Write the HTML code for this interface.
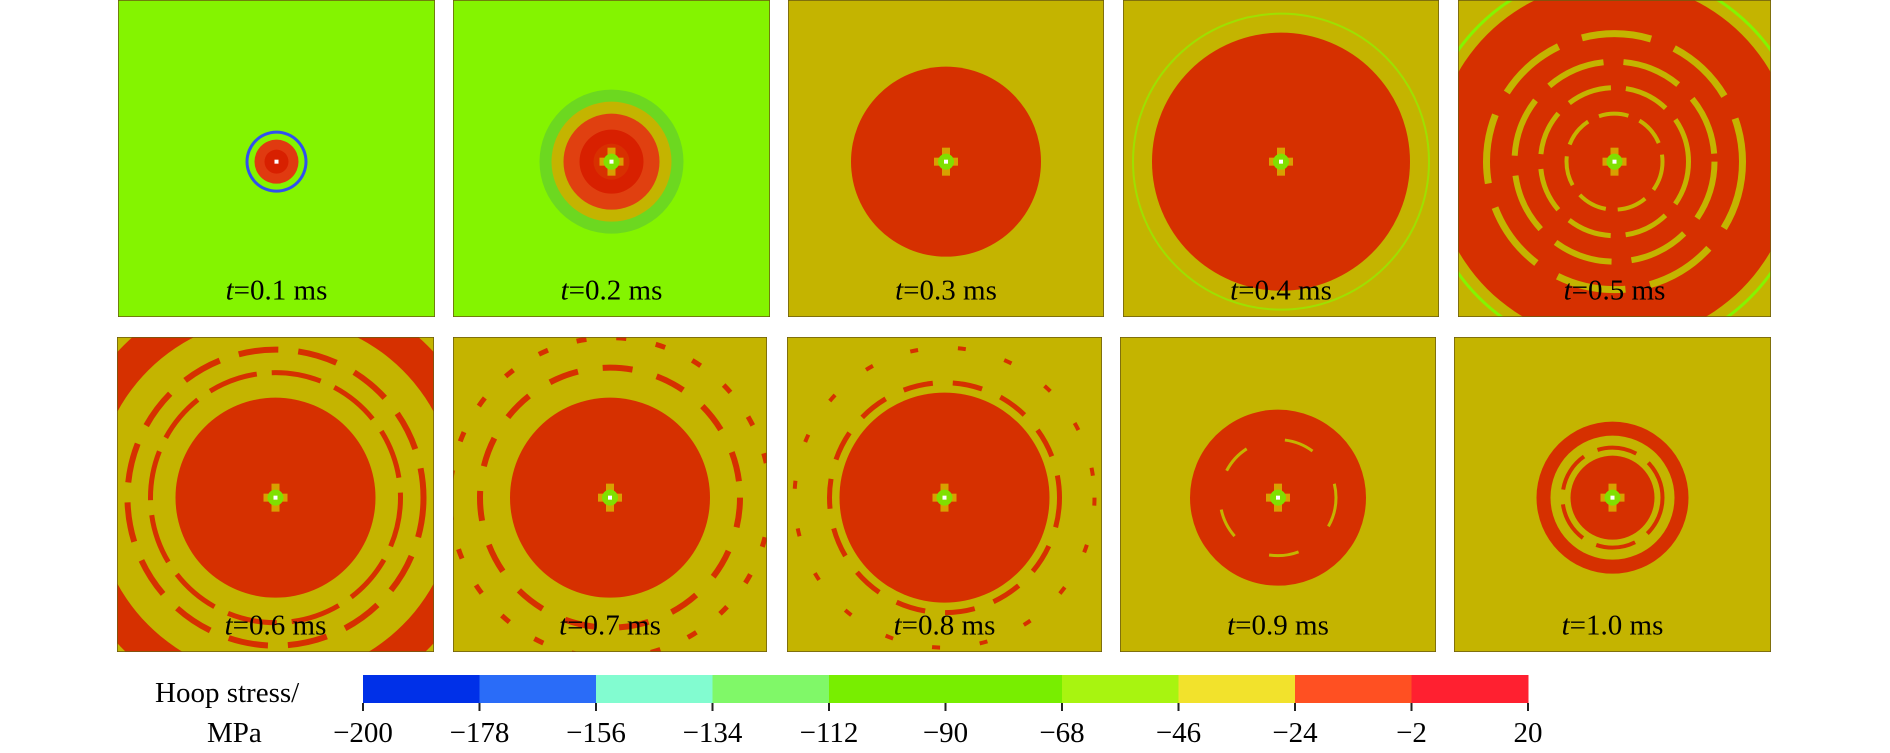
<!DOCTYPE html>
<html><head><meta charset="utf-8">
<style>
body{margin:0;background:#fff;}
svg{display:block;font-family:"Liberation Serif",serif;}
</style></head>
<body>
<svg id="fig" width="1890" height="753" viewBox="0 0 1890 753" xmlns="http://www.w3.org/2000/svg">
<defs id="defs"></defs>
<g id="panels"></g>
<g id="cbar"></g>
</svg>
<script>
const NS="http://www.w3.org/2000/svg";
// colorbar data
const cbTicks=[-200,-178,-156,-134,-112,-90,-68,-46,-24,-2,20];
const cbColors=["#0030e8","#2a6cf8","#82fcd0","#80f868","#78ee00","#78ee00","#a8f410","#f2e22c","#ff5022","#ff2030"];
// panel data
const times=["0.1","0.2","0.3","0.4","0.5","0.6","0.7","0.8","0.9","1.0"];
const bgColors=["#84f400","#84f400","#c4b400","#c4b400","#c4b400","#c4b400","#c4b400","#c4b400","#c4b400","#c4b400"];
// rings: [radius, color, strokeWidth(0=fill), dash]
const rings=[
 [[31,"#3050f0",0],[28,"#84f400",0],[22,"#e03a10",0],[12,"#d82000",0]],
 [[72,"#6cd820",0],[60,"#c4b400",0],[48,"#e04010",0],[32,"#d82000",0],[18,"#d83000",0]],
 [[95,"#d63000",0]],
 [[148,"#9ee000",2],[129,"#d63000",0]],
 [[192,"#84f400",3],[180,"#d63000",0],[128,"#c4b400",7,"70 25"],[100,"#c4b400",6,"60 20"],[74,"#c4b400",5,"45 15"],[48,"#c4b400",4,"30 12"]],
 [[215,"#d63000",0],[180,"#c4b400",0],[148,"#d63000",6,"40 20"],[125,"#d63000",5,"50 15"],[100,"#d63000",0]],
 [[160,"#d63000",5,"10 30"],[130,"#d63000",6,"30 25"],[100,"#d63000",0]],
 [[150,"#d63000",4,"8 40"],[115,"#d63000",5,"30 20"],[105,"#d63000",0]],
 [[88,"#d63000",0],[58,"#c4b400",3,"30 40"]],
 [[76,"#d63000",0],[62,"#c4b400",0],[50,"#d63000",4,"40 15"],[42,"#d63000",0]]
];
const pX=[[118,435],[453,770],[788,1104],[1123,1439],[1458,1771],[117,434],[453,767],[787,1102],[1120,1436],[1454,1771]];
const rowY=[[0,317],[337,652]];
const P=document.getElementById('panels'),D=document.getElementById('defs');
function mk(t,a,parent){const e=document.createElementNS(NS,t);for(const k in a)e.setAttribute(k,a[k]);parent.appendChild(e);return e;}
times.forEach((tm,i)=>{
 const [x0,x1]=pX[i],[y0,y1]=rowY[i<5?0:1];
 const w=x1-x0,h=y1-y0,cx=x0+w/2,cy=y0+h*0.51;
 const cp=mk('clipPath',{id:'c'+i},D);mk('rect',{x:x0,y:y0,width:w,height:h},cp);
 const g=mk('g',{'clip-path':'url(#c'+i+')'},P);
 
 
 mk('rect',{x:x0,y:y0,width:w,height:h,fill:bgColors[i]},g);
 rings[i].forEach(r=>{
  if(r[2]===0)mk('circle',{cx:cx,cy:cy,r:r[0],fill:r[1]},g);
  else{const a={cx:cx,cy:cy,r:r[0],fill:'none',stroke:r[1],'stroke-width':r[2]};if(r[3])a['stroke-dasharray']=r[3];mk('circle',a,g);}
 });
 if(i>0){mk('rect',{x:cx-12,y:cy-4,width:24,height:8,fill:'#d8a000'},g);mk('rect',{x:cx-4,y:cy-14,width:8,height:28,fill:'#d8a000'},g);
  mk('circle',{cx:cx,cy:cy,r:8,fill:'#80e000'},g);}
 mk('rect',{x:cx-2,y:cy-2,width:4,height:4,fill:'#fff'},g);
 mk('rect',{x:x0,y:y0,width:w,height:h,fill:'none',stroke:'#6a5a10','stroke-width':1.5},g);
 const t=mk('text',{x:cx,y:y0+h*0.945,'text-anchor':'middle','font-size':29,fill:'#000'},P);
 
 
 t.innerHTML='<tspan font-style="italic">t</tspan>=' + tm + ' ms';
});
// colorbar
const C=document.getElementById('cbar');
const cbx0=363,cbx1=1528,cby=675,cbh=28;
const sx=v=>cbx0+(v-cbTicks[0])/(cbTicks[cbTicks.length-1]-cbTicks[0])*(cbx1-cbx0);
cbColors.forEach((c,i)=>{
 const r=mk('rect',{x:sx(cbTicks[i]),y:cby,width:sx(cbTicks[i+1])-sx(cbTicks[i])+0.5,height:cbh,fill:c},C);
 
 
});
cbTicks.forEach(v=>{
 mk('line',{x1:sx(v),x2:sx(v),y1:cby+cbh,y2:cby+cbh+8,stroke:'#222','stroke-width':2},C);
 const t=mk('text',{x:sx(v),y:742,'text-anchor':'middle','font-size':29,fill:'#000'},C);
 
 
 t.textContent=(v<0?'\u2212'+(-v):v);
});
const l1=mk('text',{x:155,y:702,'font-size':29,fill:'#000'},C);


l1.textContent='Hoop stress/';
const l2=mk('text',{x:207,y:742,'font-size':29,fill:'#000'},C);


l2.textContent='MPa';
</script>
</body></html>
